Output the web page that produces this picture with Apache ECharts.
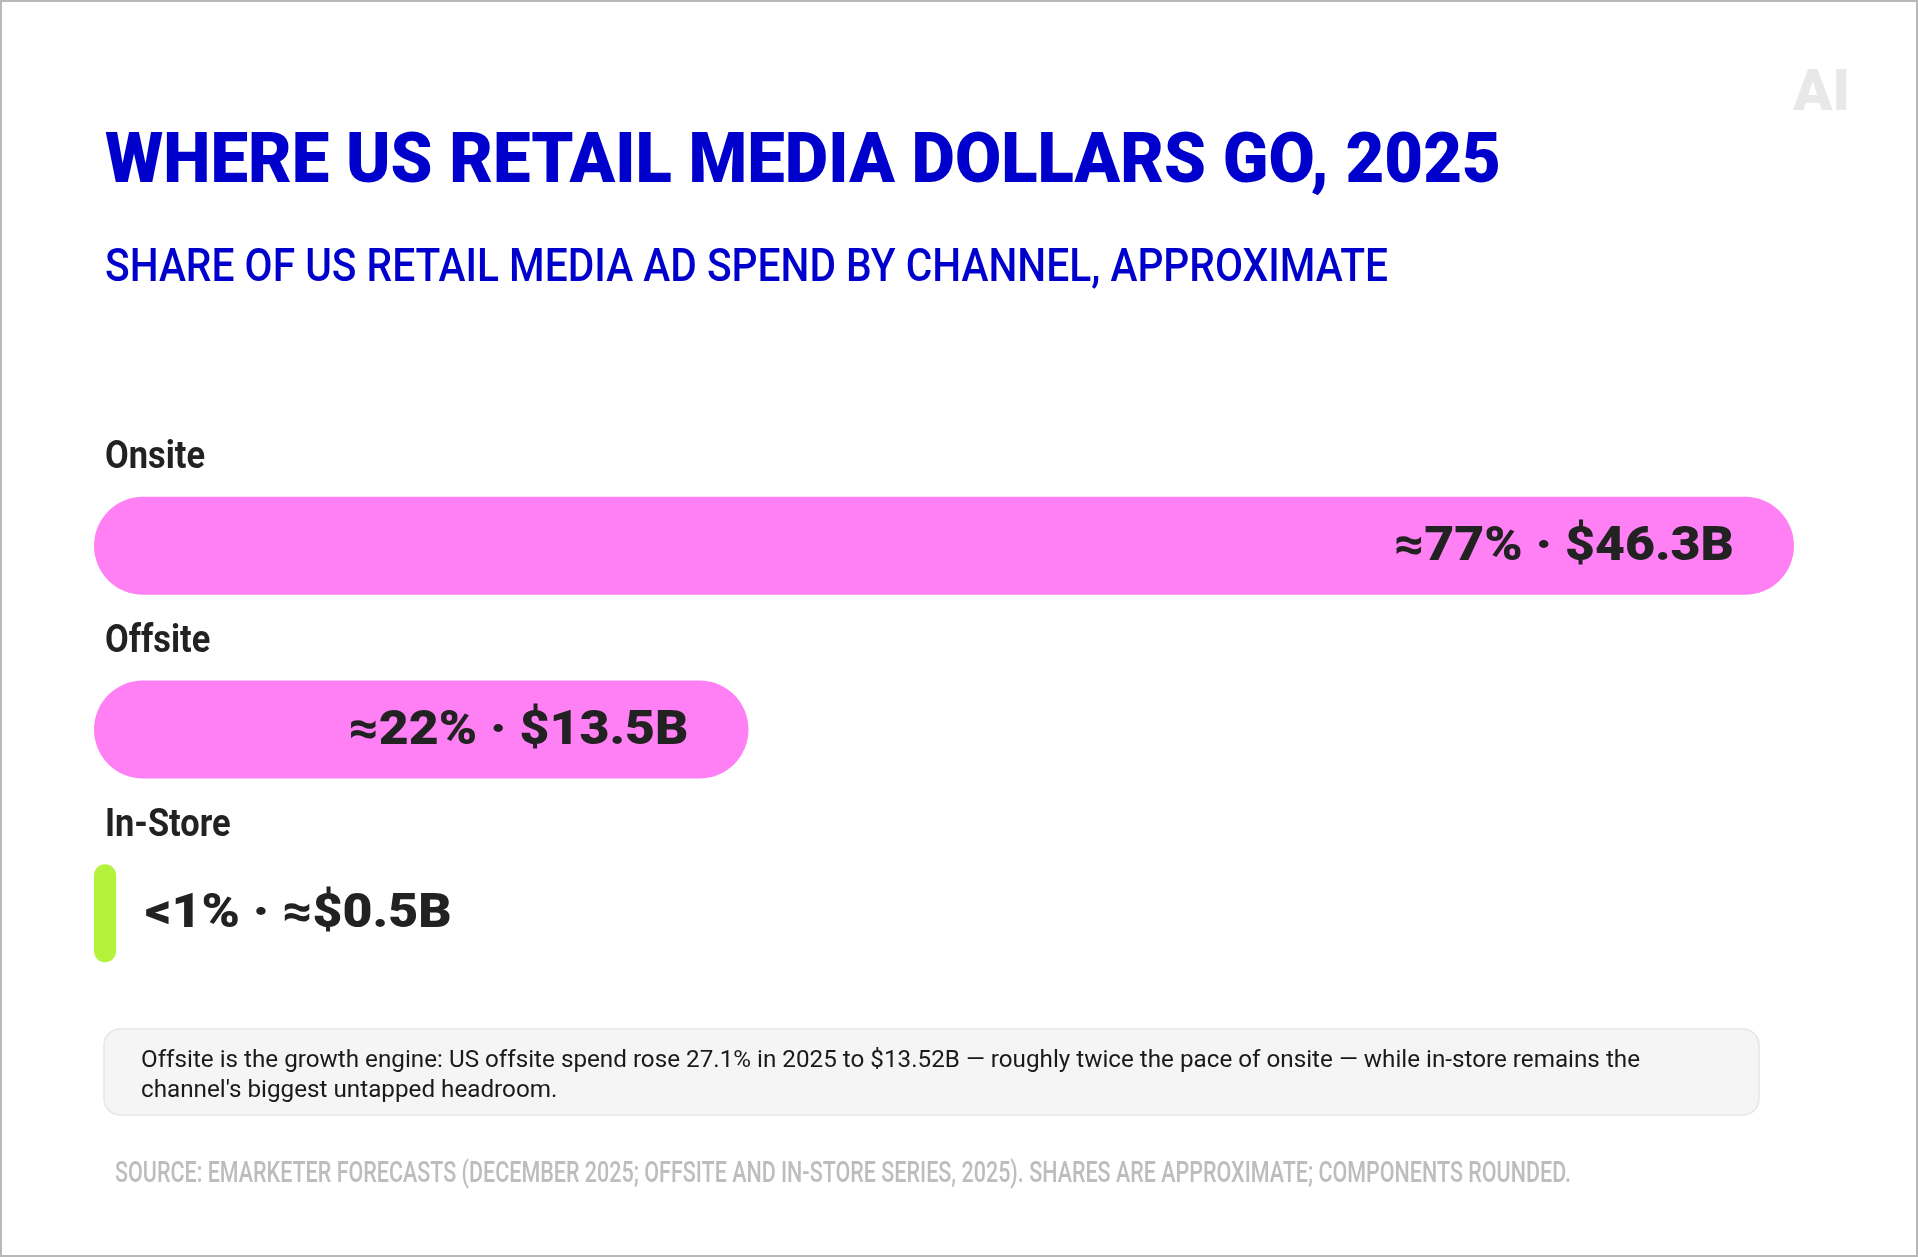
<!DOCTYPE html>
<html>
<head>
<meta charset="utf-8">
<script src="https://cdn.jsdelivr.net/npm/echarts@6/dist/echarts.min.js"></script>
<style>
  html, body { margin: 0; padding: 0; background: #ffffff; }
  #chart { width: 1918px; height: 1257px; }
</style>
</head>
<body>
<div id="chart"></div>
<script>
// ---- data ----
const categories = ['Onsite', 'Offsite', 'In-Store'];
// displayed bar length, as % of the full bar track
const barLengthPct = [100, 38.5, 1.3];
const shareLabels = ['≈77%', '≈22%', '<1%'];
const spendLabels = ['$46.3B', '$13.5B', '≈$0.5B'];
const barColors = ['#ff80f5', '#ff80f5', '#b4f23c'];

const titleText = 'WHERE US RETAIL MEDIA DOLLARS GO, 2025';
const subtitleText = 'SHARE OF US RETAIL MEDIA AD SPEND BY CHANNEL, APPROXIMATE';
const noteLines = [
  'Offsite is the growth engine: US offsite spend rose 27.1% in 2025 to $13.52B — roughly twice the pace of onsite — while in-store remains the',
  "channel's biggest untapped headroom."
];
const sourceText = 'SOURCE: EMARKETER FORECASTS (DECEMBER 2025; OFFSITE AND IN-STORE SERIES, 2025). SHARES ARE APPROXIMATE; COMPONENTS ROUNDED.';
const logoText = 'AI';

// ---- text measuring helper for horizontal fitting ----
const mctx = document.createElement('canvas').getContext('2d');
function measure(text, weight, size, family) {
  mctx.font = weight + ' ' + size + 'px ' + family;
  return mctx.measureText(text).width;
}
function fit(text, weight, size, family, target) {
  return target / measure(text, weight, size, family);
}

const FONT = 'Roboto';
const titleScale = fit(titleText, 900, 71, FONT, 1396);
const subScale = fit(subtitleText, 500, 46, FONT, 1283);
const catScale = fit('Onsite', 'bold', 38, FONT, 100);
const valLabel0 = shareLabels[0] + ' · ' + spendLabels[0];
const valScale = fit(valLabel0, 900, 48, FONT, 340);
const noteScale = fit(noteLines[0], 400, 24, FONT, 1499);
const srcScale = fit(sourceText, 500, 29, FONT, 1456);

const chart = echarts.init(document.getElementById('chart'), null, { renderer: 'canvas' });

const seriesData = categories.map((c, i) => [barLengthPct[i], i]);

const option = {
  backgroundColor: '#ffffff',
  animation: false,
  grid: { left: 94, right: 124, top: 454, height: 551, containLabel: false },
  xAxis: { type: 'value', min: 0, max: 100, show: false },
  yAxis: { type: 'category', data: categories, inverse: true, show: false },
  series: [{
    type: 'custom',
    data: seriesData,
    encode: { x: 0, y: 1 },
    renderItem: function (params, api) {
      const i = params.dataIndex;
      const start = api.coord([0, api.value(1)]);
      const end = api.coord([api.value(0), api.value(1)]);
      const h = 98;
      const w = end[0] - start[0];
      const cy = start[1];
      const label = shareLabels[i] + ' · ' + spendLabels[i];
      const labelW = measure(label, 900, 48, FONT) * valScale;
      const inside = w > labelW + 120;
      return {
        type: 'group',
        children: [
          {
            type: 'rect',
            shape: { x: start[0], y: cy - h / 2, width: w, height: h, r: Math.min(h / 2, w / 2) },
            style: { fill: barColors[i] }
          },
          {
            type: 'text',
            x: start[0] + 11, y: cy - 87, scaleX: catScale,
            style: {
              text: categories[i], fill: '#222222', fontFamily: FONT, fontWeight: 'bold', fontSize: 38,
              align: 'left', verticalAlign: 'middle'
            }
          },
          {
            type: 'text',
            x: inside ? end[0] - 60 : end[0] + 29, y: cy + 2, scaleX: valScale,
            style: {
              text: label, fill: '#222222', fontFamily: FONT, fontWeight: 900, fontSize: 48,
              align: inside ? 'right' : 'left', verticalAlign: 'middle'
            }
          }
        ]
      };
    }
  }],
  graphic: [
    {
      type: 'rect', silent: true,
      shape: { x: 1, y: 1, width: 1916, height: 1255 },
      style: { fill: 'none', stroke: '#b8b8b8', lineWidth: 2 }
    },
    {
      type: 'text', x: 1850, y: 95,
      style: { text: logoText, fill: '#e8e8e8', fontFamily: FONT, fontWeight: 900, fontSize: 58, align: 'right', verticalAlign: 'middle' }
    },
    {
      type: 'text', x: 105, y: 164, scaleX: titleScale,
      style: { text: titleText, fill: '#0000cc', fontFamily: FONT, fontWeight: 900, fontSize: 71, align: 'left', verticalAlign: 'middle' }
    },
    {
      type: 'text', x: 105, y: 269, scaleX: subScale,
      style: { text: subtitleText, fill: '#0000cc', fontFamily: FONT, fontWeight: 500, fontSize: 46, align: 'left', verticalAlign: 'middle' }
    },
    {
      type: 'rect', silent: true,
      shape: { x: 104, y: 1029, width: 1655, height: 86, r: 16 },
      style: { fill: '#f5f5f5', stroke: '#e6e6e6', lineWidth: 1.5 }
    },
    {
      type: 'text', x: 141, y: 1061, scaleX: noteScale,
      style: { text: noteLines.join('\n'), fill: '#1a1a1a', fontFamily: FONT, fontWeight: 400, fontSize: 24, lineHeight: 30, align: 'left', verticalAlign: 'top', y: -15 }
    },
    {
      type: 'text', x: 115, y: 1175, scaleX: srcScale,
      style: { text: sourceText, fill: '#bdbdbd', fontFamily: FONT, fontWeight: 500, fontSize: 29, align: 'left', verticalAlign: 'middle' }
    }
  ]
};

chart.setOption(option);
</script>
</body>
</html>
